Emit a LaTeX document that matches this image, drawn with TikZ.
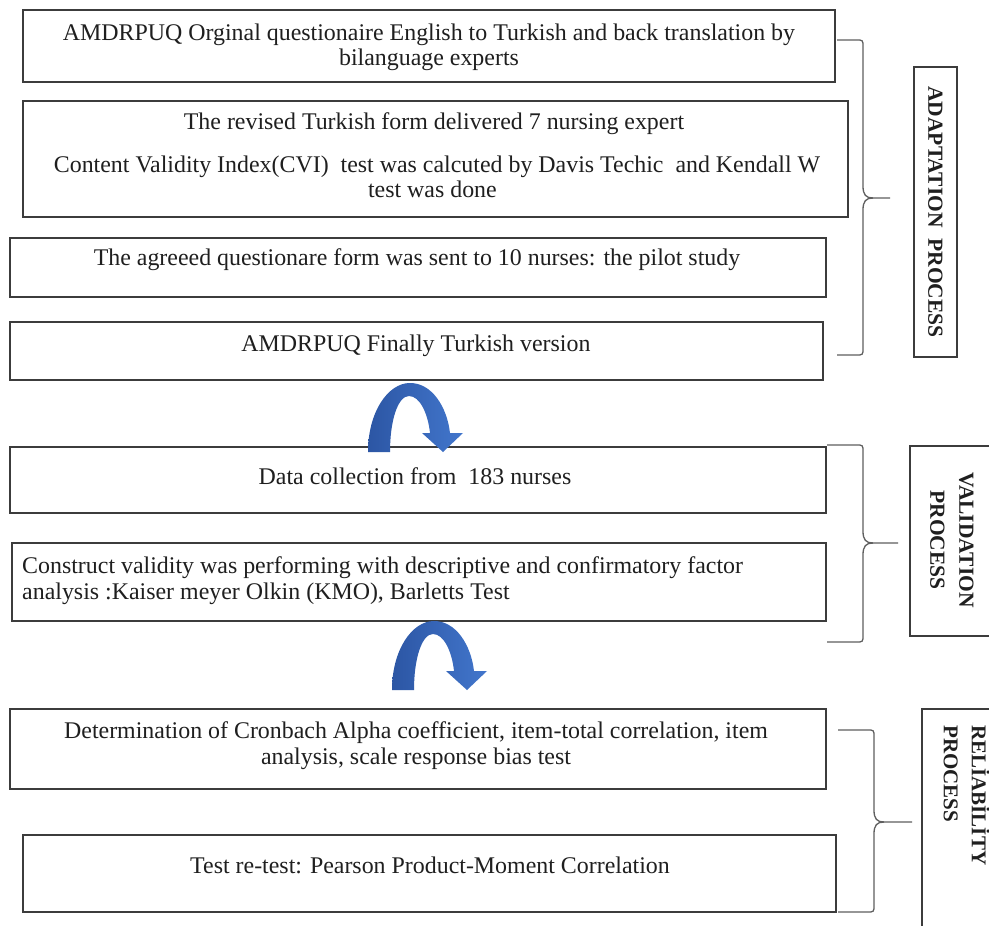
\documentclass[tikz,border=0pt]{standalone}
\usepackage{fontspec}
\setmainfont{Liberation Serif}
\definecolor{boxc}{RGB}{60,60,60}
\definecolor{bracec}{RGB}{95,95,95}
\definecolor{arrdark}{RGB}{44,86,164}
\definecolor{arrlight}{RGB}{66,118,204}
\tikzset{
  box/.style={draw=boxc, line width=1.4pt, inner sep=0pt, outer sep=0pt, anchor=north west},
  txt/.style={inner sep=0pt, anchor=base, text=black!88, font=\fontsize{23.9}{25}\selectfont},
  lbl/.style={inner sep=0pt, text=black!88, font=\fontsize{21.5}{29}\selectfont\bfseries},
  brc/.style={draw=bracec, line width=1.3pt},
  bluearrow/.style={left color=arrdark, right color=arrlight, draw=none},
}
\begin{document}
\begin{tikzpicture}[x=1pt,y=-1pt]
\useasboundingbox (0,0) rectangle (989,926);
\clip (0,0) rectangle (989,926);
\fill[white] (0,0) rectangle (989,926);

% boxes
\node[box, minimum width=812pt, minimum height=72pt] (b1) at (23,10) {};
\node[box, minimum width=825pt, minimum height=116pt] (b2) at (23,101) {};
\node[box, minimum width=816pt, minimum height=59pt] (b3) at (10,238) {};
\node[box, minimum width=813pt, minimum height=58pt] (b4) at (10,322) {};
\node[box, minimum width=816pt, minimum height=66pt] (b5) at (10,447) {};
\node[box, minimum width=814pt, minimum height=78pt] (b6) at (12,543) {};
\node[box, minimum width=816pt, minimum height=80pt] (b7) at (10,709) {};
\node[box, minimum width=813pt, minimum height=77pt] (b8) at (23,835) {};

% texts
\node[txt] (t1a) at (429,40) {AMDRPUQ Orginal questionaire English to Turkish and back translation by};
\node[txt] (t1b) at (429,65) {bilanguage experts};
\node[txt] (t2a) at (434,129) {The revised Turkish form delivered 7 nursing expert};
\node[txt] (t2b) at (437,172) {Content Validity Index(CVI)\ \ test was calcuted by Davis Techic\ \ and Kendall W};
\node[txt, anchor=base east] (t2c) at (497,197) {test was done};
\node[txt] (t3) at (417,265) {The agreeed questionare form was sent to 10 nurses: the pilot study};
\node[txt] (t4) at (416,351) {AMDRPUQ Finally Turkish version};
\node[txt] (t5) at (415,484) {Data collection from\ \ 183 nurses};
\node[txt, anchor=base west] (t6a) at (22,573) {Construct validity was performing with descriptive and confirmatory factor};
\node[txt, anchor=base west] (t6b) at (22,599) {analysis :Kaiser meyer Olkin (KMO), Barletts Test};
\node[txt] (t7a) at (416,738) {Determination of Cronbach Alpha coefficient, item-total correlation, item};
\node[txt] (t7b) at (416,764) {analysis, scale response bias test};
\node[txt] (t8) at (430,873) {Test re-test: Pearson Product-Moment Correlation};

% curved arrows
\foreach \ox/\oy in {368/452, 392/690}{
  \begin{scope}[shift={(\ox,\oy)}]
    \path[bluearrow] (0,0) .. controls (0,-40) and (20,-69) .. (42,-69)
      .. controls (64,-69) and (79,-45) .. (82,-19) -- (95,-19) -- (75,0) -- (54,-19) -- (62,-19)
      .. controls (60,-38) and (52,-56) .. (41,-56)
      .. controls (30,-56) and (22,-32) .. (22,0) -- cycle;
  \end{scope}
}

% braces
\draw[brc] (837,40) -- (856,40) .. controls (863,40) .. (863,47) -- (863,186)
  .. controls (863,195) and (866,198) .. (873,198) -- (890,198);
\draw[brc] (873,198) .. controls (866,198) and (863,201) .. (863,210) -- (863,348)
  .. controls (863,355) .. (856,355) -- (837,355);

\draw[brc] (827,445) -- (856,445) .. controls (863,445) .. (863,452) -- (863,531)
  .. controls (863,540) and (866,543) .. (873,543) -- (898,543);
\draw[brc] (873,543) .. controls (866,543) and (863,546) .. (863,555) -- (863,635)
  .. controls (863,642) .. (856,642) -- (827,642);

\draw[brc] (838,730) -- (867,730) .. controls (874,730) .. (874,737) -- (874,810)
  .. controls (874,819) and (877,822) .. (884,822) -- (912,822);
\draw[brc] (884,822) .. controls (877,822) and (874,825) .. (874,834) -- (874,905)
  .. controls (874,912) .. (867,912) -- (838,912);

% process labels
\node[box, minimum width=43pt, minimum height=290pt] (l1) at (914,67) {};
\node[lbl, rotate=-90] (l1t) at (l1.center) {ADAPTATION\ \ PROCESS};
\node[box, minimum width=100pt, minimum height=190pt] (l2) at (910,446) {};
\node[lbl, rotate=-90, align=center] (l2t) at (952,540) {VALIDATION\\PROCESS};
\node[box, minimum width=100pt, minimum height=260pt] (l3) at (922,709) {};
\node[lbl, rotate=-90, align=left, anchor=north west, font=\fontsize{21}{28}\selectfont\bfseries] (l3t) at (990,725) {RELİABİLİTY\\PROCESS};
\end{tikzpicture}
\end{document}
